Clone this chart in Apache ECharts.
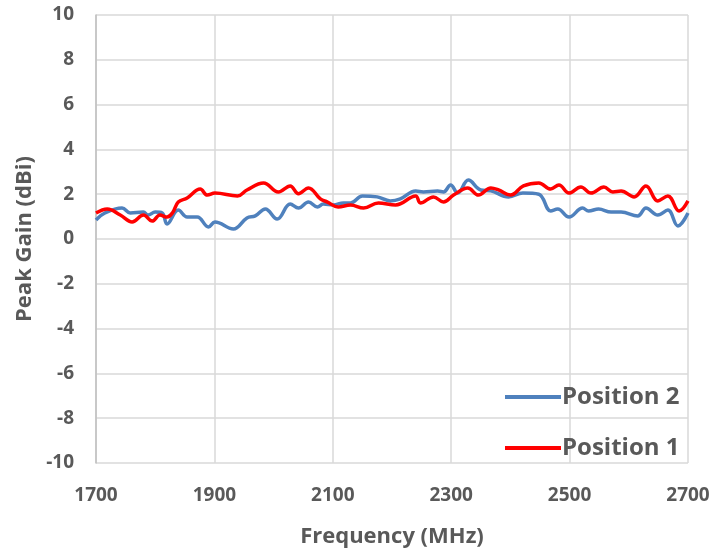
<!DOCTYPE html>
<html><head><meta charset="utf-8">
<script src="https://cdn.jsdelivr.net/npm/echarts@6/dist/echarts.min.js"></script>
<style>html,body{margin:0;padding:0;background:#fff}#c{width:727px;height:553px}</style>
</head><body><div id="c"></div>
<script>
const yTicks = [-10,-8,-6,-4,-2,0,2,4,6,8,10];
const xTicks = [1700,1900,2100,2300,2500,2700];

const pos2Freq = [1700,1715,1744,1758,1780,1788,1800,1812,1820,1839,1854,1871,1890,1901,1932,1955,1969,1986,2006,2028,2042,2059,2074,2084,2101,2118,2130,2150,2175,2197,2214,2240,2253,2277,2287,2299,2311,2329,2350,2367,2397,2421,2448,2468,2480,2499,2522,2532,2549,2570,2587,2615,2629,2649,2666,2683,2700];
const pos2Gain = [0.85,1.16,1.38,1.16,1.2,1.07,1.2,1.16,0.67,1.29,0.98,0.98,0.54,0.76,0.45,0.94,1.03,1.34,0.89,1.56,1.38,1.65,1.43,1.56,1.52,1.61,1.61,1.92,1.88,1.70,1.79,2.14,2.10,2.14,2.10,2.41,2.05,2.63,2.19,2.15,1.88,2.05,2.0,1.25,1.34,0.98,1.38,1.25,1.34,1.2,1.2,1.03,1.38,1.07,1.29,0.58,1.16];

const pos1Freq = [1700,1719,1741,1761,1780,1795,1808,1820,1829,1839,1854,1876,1888,1901,1939,1955,1983,2008,2028,2042,2059,2079,2091,2109,2130,2152,2177,2206,2240,2248,2270,2287,2304,2328,2346,2367,2380,2400,2422,2448,2468,2482,2499,2519,2536,2558,2573,2587,2609,2629,2649,2666,2685,2700];
const pos1Gain = [1.16,1.34,1.07,0.76,1.07,0.8,1.07,0.98,1.16,1.65,1.83,2.23,1.96,2.05,1.92,2.19,2.5,2.1,2.37,2.02,2.28,1.79,1.65,1.43,1.52,1.38,1.61,1.52,1.92,1.61,1.88,1.65,1.96,2.28,1.96,2.28,2.19,1.96,2.37,2.5,2.23,2.41,2.05,2.32,2.05,2.32,2.10,2.14,1.88,2.37,1.70,1.92,1.25,1.70];

const zip = (a,b) => a.map((v,i)=>[v,b[i]]);
const labelFont = {color:'#595959', fontWeight:'bold', fontSize:19, fontFamily:'Open Sans'};
const nameFont = {color:'#595959', fontWeight:'bold', fontSize:22, fontFamily:'Open Sans'};

const chart = echarts.init(document.getElementById('c'));
chart.setOption({
  animation:false,
  grid:{left:96, right:39, top:15, bottom:90, containLabel:false, outerBoundsMode:'none'},
  legend:{
    orient:'vertical', left:500, top:380, itemGap:27, itemWidth:56, itemHeight:4,
    icon:'rect',
    data:['Position 2','Position 1'],
    textStyle:{color:'#595959', fontWeight:'bold', fontSize:24, fontFamily:'Open Sans', padding:[0,0,0,-4]}
  },
  xAxis:{
    type:'value', min:1700, max:2700, interval:200,
    name:'Frequency (MHz)', nameLocation:'middle', nameGap:63,
    nameTextStyle:nameFont,
    axisLine:{show:false}, axisTick:{show:false},
    axisLabel:Object.assign({margin:23, formatter:v=>String(v)}, labelFont),
    splitLine:{lineStyle:{color:'#D9D9D9', width:1.5}}
  },
  yAxis:{
    type:'value', min:-10, max:10, interval:2,
    name:'Peak Gain (dBi)', nameLocation:'middle', nameGap:54,
    nameTextStyle:nameFont,
    axisLine:{show:true, lineStyle:{color:'#BFBFBF', width:1.5}}, axisTick:{show:false},
    axisLabel:Object.assign({margin:22, formatter:v=>String(v)}, labelFont),
    splitLine:{lineStyle:{color:'#D9D9D9', width:1.5}}
  },
  series:[
    {name:'Position 2', type:'line', data:zip(pos2Freq,pos2Gain), symbol:'none', smooth:0.4,
     lineStyle:{color:'#4F81BD', width:3.5}, itemStyle:{color:'#4F81BD'}},
    {name:'Position 1', type:'line', data:zip(pos1Freq,pos1Gain), symbol:'none', smooth:0.4,
     lineStyle:{color:'#FF0000', width:3.5}, itemStyle:{color:'#FF0000'}}
  ]
});
</script></body></html>
